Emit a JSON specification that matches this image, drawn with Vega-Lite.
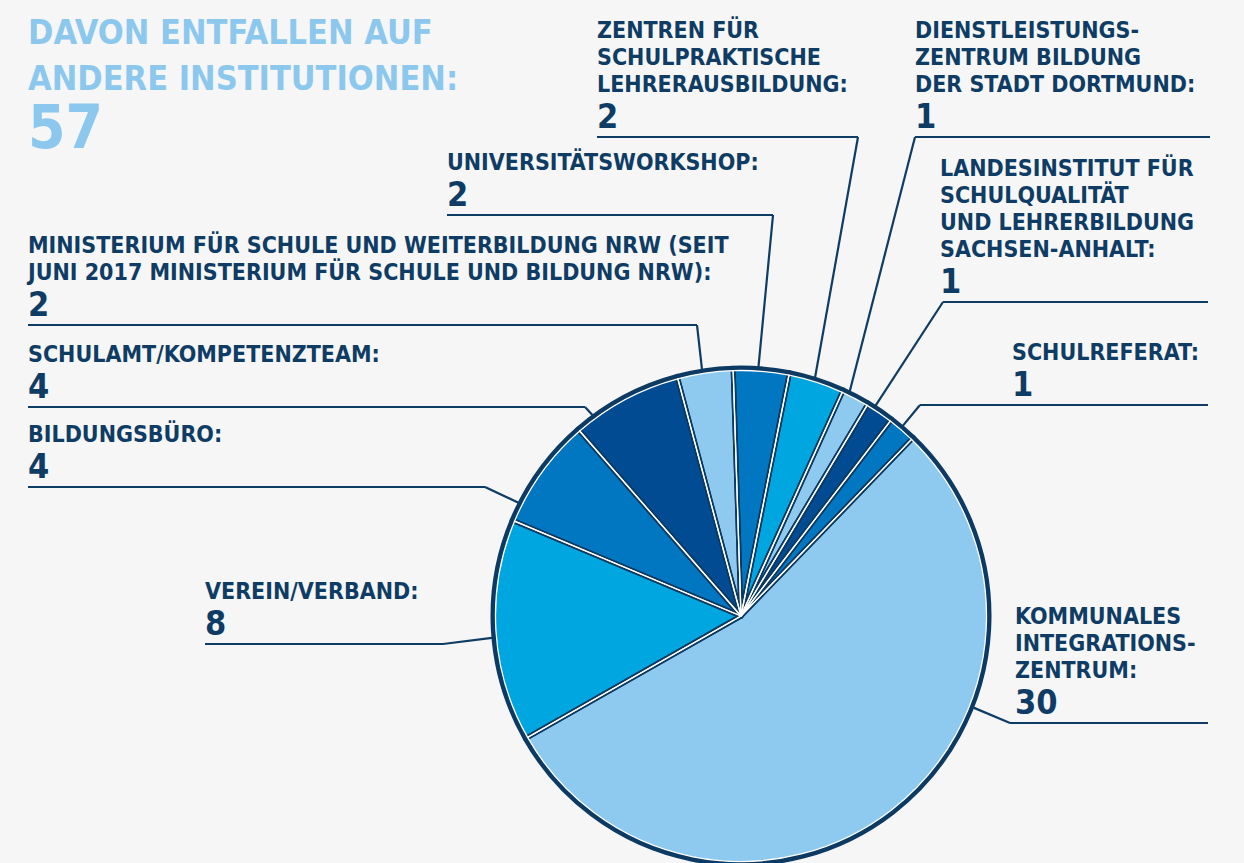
{
  "$schema": "https://vega.github.io/schema/vega-lite/v6.json",
  "width": 1244,
  "height": 863,
  "autosize": {"type": "none"},
  "padding": 0,
  "background": "#f6f6f6",
  "view": {"stroke": null},
  "config": {"font": "Liberation Sans Narrow, DejaVu Sans Condensed, sans-serif"},
  "title": {
    "text": ["DAVON ENTFALLEN AUF", "ANDERE INSTITUTIONEN:"],
    "subtitle": "57",
    "anchor": "start",
    "frame": "group",
    "orient": "top",
    "offset": -160,
    "dx": 28,
    "font": "Liberation Sans Narrow, DejaVu Sans Condensed, sans-serif",
    "fontSize": 34,
    "fontWeight": "bold",
    "lineHeight": 46,
    "color": "#8cc8ee",
    "subtitleFont": "Liberation Sans Narrow, DejaVu Sans Condensed, sans-serif",
    "subtitleFontSize": 60,
    "subtitleFontWeight": "bold",
    "subtitleColor": "#8cc8ee",
    "subtitlePadding": 4
  },
  "data": {
    "values": [
      {"category": "Kommunales Integrationszentrum", "label": "KOMMUNALES\nINTEGRATIONS-\nZENTRUM:", "value": 30},
      {"category": "Verein/Verband", "label": "VEREIN/VERBAND:", "value": 8},
      {"category": "Bildungsbüro", "label": "BILDUNGSBÜRO:", "value": 4},
      {"category": "Schulamt/Kompetenzteam", "label": "SCHULAMT/KOMPETENZTEAM:", "value": 4},
      {"category": "Ministerium für Schule und Weiterbildung NRW", "label": "MINISTERIUM FÜR SCHULE UND WEITERBILDUNG NRW (SEIT\nJUNI 2017 MINISTERIUM FÜR SCHULE UND BILDUNG NRW):", "value": 2},
      {"category": "Universitätsworkshop", "label": "UNIVERSITÄTSWORKSHOP:", "value": 2},
      {"category": "Zentren für schulpraktische Lehrerausbildung", "label": "ZENTREN FÜR\nSCHULPRAKTISCHE\nLEHRERAUSBILDUNG:", "value": 2},
      {"category": "Dienstleistungszentrum Bildung der Stadt Dortmund", "label": "DIENSTLEISTUNGS-\nZENTRUM BILDUNG\nDER STADT DORTMUND:", "value": 1},
      {"category": "Landesinstitut für Schulqualität und Lehrerbildung Sachsen-Anhalt", "label": "LANDESINSTITUT FÜR\nSCHULQUALITÄT\nUND LEHRERBILDUNG\nSACHSEN-ANHALT:", "value": 1},
      {"category": "Schulreferat", "label": "SCHULREFERAT:", "value": 1}
    ]
  },
  "transform": [
    {"window": [{"op": "row_number", "as": "idx"}]},
    {"calculate": "({'Kommunales Integrationszentrum': [1.1093, -0.4332, 1.0891, 1.8907, 1.0891, 111.5], 'Verein/Verband': [-2.17, -0.1134, -2.17, -1.2065, -1.2065, 265], 'Bildungsbüro': [-2.8866, 0.5223, -2.8866, -1.0364, -1.0364, 297], 'Schulamt/Kompetenzteam': [-2.8866, 0.8462, -2.8866, -0.6316, -0.6316, 323.6], 'Ministerium für Schule und Weiterbildung NRW': [-2.8866, 1.1781, -2.8866, -0.1781, -0.1781, 351], 'Universitätsworkshop': [-1.1903, 1.6235, -1.1903, 0.1296, 0.1296, 4], 'Zentren für schulpraktische Lehrerausbildung': [-0.583, 1.9393, -0.583, 0.4737, 0.4737, 17.3], 'Dienstleistungszentrum Bildung der Stadt Dortmund': [0.7045, 1.9393, 0.7045, 1.8988, 0.7045, 25.9], 'Landesinstitut für Schulqualität und Lehrerbildung Sachsen-Anhalt': [0.8057, 1.2713, 0.8178, 1.8907, 0.8178, 32.6], 'Schulreferat': [1.0972, 0.8543, 0.7247, 1.8907, 0.7247, 40.4]})[datum.category]", "as": "L"},
    {"calculate": "datum.L[0]", "as": "tx"},
    {"calculate": "datum.L[1]", "as": "uy"},
    {"calculate": "datum.L[2]", "as": "hx1"},
    {"calculate": "datum.L[3]", "as": "hx2"},
    {"calculate": "datum.L[4]", "as": "ex"},
    {"calculate": "1.004 * sin(datum.L[5] * PI / 180)", "as": "px"},
    {"calculate": "1.004 * cos(datum.L[5] * PI / 180)", "as": "py"},
    {"calculate": "datum.uy + (45 + (length(split(datum.label, '\\n')) - 1) * 27) / 247", "as": "ty"}
  ],
  "layer": [
    {
      "mark": {"type": "arc", "outerRadius": 248, "strokeWidth": 0},
      "encoding": {
        "x": {"datum": 0, "type": "quantitative", "scale": {"domain": [-3, 2.03644], "nice": false, "zero": false}, "axis": null},
        "y": {"datum": 0, "type": "quantitative", "scale": {"domain": [-1, 2.49393], "nice": false, "zero": false}, "axis": null},
        "theta": {"field": "value", "type": "quantitative", "stack": true, "scale": {"range": [0.768, 7.051]}},
        "order": {"field": "idx", "type": "quantitative"},
        "color": {"field": "category", "type": "nominal", "legend": null,
          "scale": {
            "domain": ["Kommunales Integrationszentrum", "Verein/Verband", "Bildungsbüro", "Schulamt/Kompetenzteam", "Ministerium für Schule und Weiterbildung NRW", "Universitätsworkshop", "Zentren für schulpraktische Lehrerausbildung", "Dienstleistungszentrum Bildung der Stadt Dortmund", "Landesinstitut für Schulqualität und Lehrerbildung Sachsen-Anhalt", "Schulreferat"],
            "range": ["#8ecaef", "#00a6e0", "#0077c0", "#004b91", "#8ecaef", "#0077c0", "#00a6e0", "#8ecaef", "#004b91", "#0077c0"]
          }}
      }
    },
    {
      "mark": {"type": "arc", "outerRadius": 248, "fillOpacity": 0, "stroke": "#0c3a63", "strokeWidth": 5, "strokeJoin": "round"},
      "encoding": {
        "x": {"datum": 0, "type": "quantitative"},
        "y": {"datum": 0, "type": "quantitative"},
        "theta": {"field": "value", "type": "quantitative", "stack": true},
        "order": {"field": "idx", "type": "quantitative"}
      }
    },
    {
      "mark": {"type": "arc", "outerRadius": 245.5, "fillOpacity": 0, "stroke": "#ffffff", "strokeWidth": 1.3},
      "encoding": {
        "x": {"datum": 0, "type": "quantitative"},
        "y": {"datum": 0, "type": "quantitative"},
        "theta": {"field": "value", "type": "quantitative", "stack": true},
        "order": {"field": "idx", "type": "quantitative"}
      }
    },
    {
      "mark": {"type": "rule", "stroke": "#0e3c64", "strokeWidth": 2.2},
      "encoding": {
        "x": {"field": "hx1", "type": "quantitative"},
        "x2": {"field": "hx2"},
        "y": {"field": "uy", "type": "quantitative"}
      }
    },
    {
      "mark": {"type": "rule", "stroke": "#0e3c64", "strokeWidth": 2.2},
      "encoding": {
        "x": {"field": "ex", "type": "quantitative"},
        "x2": {"field": "px"},
        "y": {"field": "uy", "type": "quantitative"},
        "y2": {"field": "py"}
      }
    },
    {
      "mark": {"type": "text", "align": "left", "baseline": "alphabetic", "fontSize": 23, "fontWeight": "bold", "lineHeight": 27, "lineBreak": "\n", "color": "#0e3c64"},
      "encoding": {
        "x": {"field": "tx", "type": "quantitative"},
        "y": {"field": "ty", "type": "quantitative"},
        "text": {"field": "label", "type": "nominal"}
      }
    },
    {
      "mark": {"type": "text", "align": "left", "baseline": "alphabetic", "fontSize": 34, "fontWeight": "bold", "dy": -9, "color": "#0e3c64"},
      "encoding": {
        "x": {"field": "tx", "type": "quantitative"},
        "y": {"field": "uy", "type": "quantitative"},
        "text": {"field": "value", "type": "quantitative"}
      }
    }
  ]
}
